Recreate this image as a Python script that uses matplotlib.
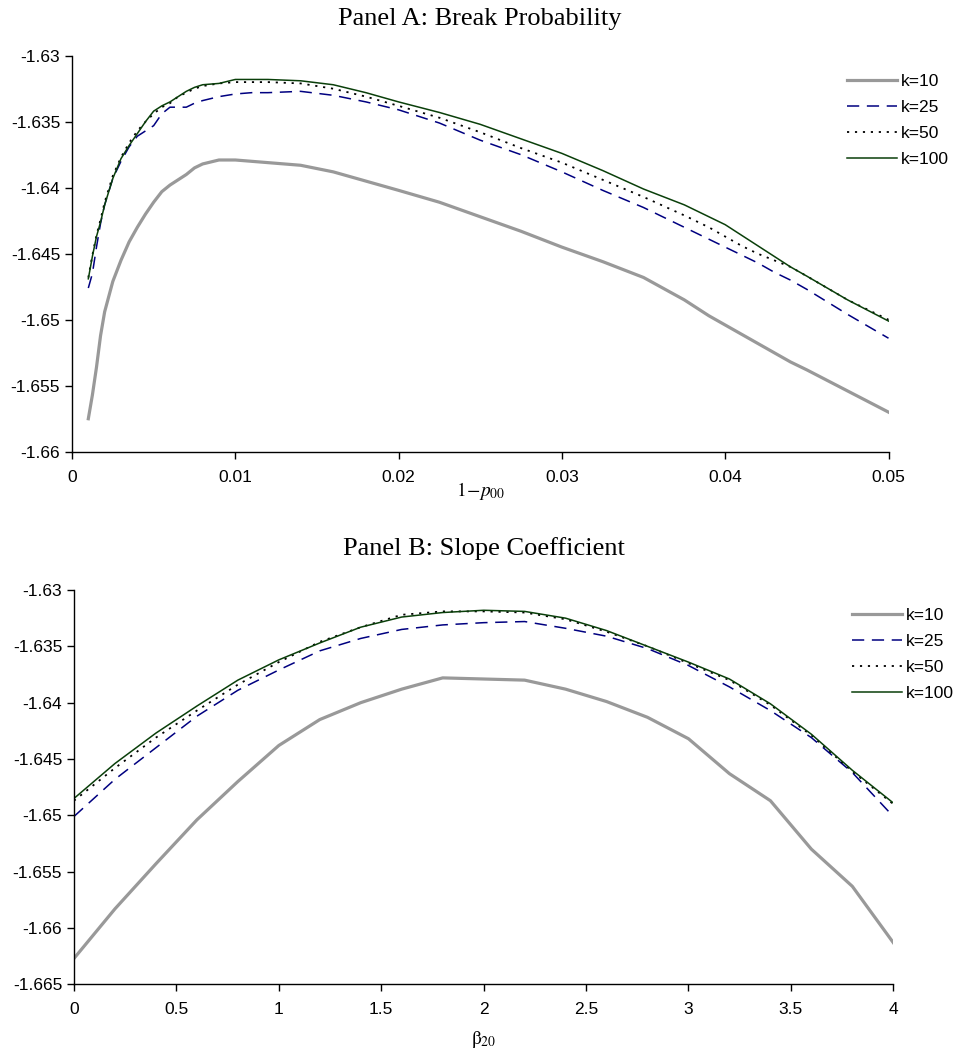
import matplotlib
matplotlib.use("Agg")
import matplotlib.pyplot as plt
from matplotlib.ticker import FuncFormatter, MultipleLocator

plt.rcParams['font.family'] = ['Liberation Sans', 'DejaVu Sans']
plt.rcParams['mathtext.fontset'] = 'stix'
plt.rcParams['axes.unicode_minus'] = False

labels = ["k=10", "k=25", "k=50", "k=100"]

# Panel A: break probability 1-p00
prob_x = [0.001, 0.00125, 0.0015, 0.00175, 0.002, 0.0025, 0.003, 0.0035, 0.004, 0.0045,
          0.005, 0.0055, 0.006, 0.0065, 0.007, 0.0075, 0.008, 0.009, 0.010, 0.011,
          0.012, 0.014, 0.016, 0.018, 0.020, 0.0225, 0.025, 0.0275, 0.030, 0.0325,
          0.035, 0.0375, 0.039, 0.040, 0.041, 0.042, 0.043, 0.044, 0.045, 0.0475, 0.050]
prob_k10 = [-1.6575, -1.6557, -1.6536, -1.6512, -1.6494, -1.6471, -1.6455, -1.6441, -1.6430, -1.6420,
            -1.6411, -1.6403, -1.6398, -1.6394, -1.6390, -1.6385, -1.6382, -1.6379, -1.6379, -1.6380,
            -1.6381, -1.6383, -1.6388, -1.6395, -1.6402, -1.6411, -1.6422, -1.6433, -1.6445, -1.6456,
            -1.6468, -1.6485, -1.6497, -1.6504, -1.6511, -1.6518, -1.6525, -1.6532, -1.6538, -1.6554, -1.6570]
prob_k25 = [-1.6476, -1.6465, -1.6445, -1.6427, -1.6413, -1.6393, -1.6380, -1.6369, -1.6361, -1.6357,
            -1.6353, -1.6344, -1.6339, -1.6339, -1.6339, -1.6336, -1.6334, -1.6331, -1.6329, -1.6328,
            -1.6328, -1.6327, -1.6330, -1.6335, -1.6341, -1.6351, -1.6364, -1.6375, -1.6388, -1.6402,
            -1.6415, -1.6430, -1.6439, -1.6445, -1.6451, -1.6457, -1.6464, -1.6470, -1.6477, -1.6496, -1.6514]
prob_k50 = [-1.6468, -1.6451, -1.6436, -1.6424, -1.6411, -1.6391, -1.6377, -1.6366, -1.6357, -1.6350,
            -1.6344, -1.6339, -1.6336, -1.6331, -1.6328, -1.6325, -1.6323, -1.6321, -1.6320, -1.6320,
            -1.6320, -1.6321, -1.6325, -1.6331, -1.6338, -1.6347, -1.6358, -1.6370, -1.6381, -1.6394,
            -1.6407, -1.6421, -1.6430, -1.6437, -1.6444, -1.6450, -1.6455, -1.6460, -1.6467, -1.6485, -1.6500]
prob_k100 = [-1.6469, -1.6452, -1.6437, -1.6426, -1.6413, -1.6393, -1.6378, -1.6368, -1.6359, -1.6350,
             -1.6342, -1.6338, -1.6335, -1.6331, -1.6327, -1.6324, -1.6322, -1.6321, -1.6318, -1.6318,
             -1.6318, -1.6319, -1.6322, -1.6328, -1.6335, -1.6343, -1.6352, -1.6363, -1.6374, -1.6387,
             -1.6401, -1.6413, -1.6422, -1.6428, -1.6436, -1.6444, -1.6452, -1.6460, -1.6467, -1.6485, -1.6501]

# Panel B: slope coefficient beta_20
slope_x = [0.0, 0.2, 0.4, 0.6, 0.8, 1.0, 1.2, 1.4, 1.6, 1.8, 2.0,
           2.2, 2.4, 2.6, 2.8, 3.0, 3.2, 3.4, 3.6, 3.8, 4.0]
slope_k10 = [-1.6627, -1.6583, -1.6543, -1.6504, -1.6470, -1.6438, -1.6415, -1.6400, -1.6388, -1.6378, -1.6379,
             -1.6380, -1.6388, -1.6399, -1.6413, -1.6432, -1.6463, -1.6487, -1.6530, -1.6563, -1.6613]
slope_k25 = [-1.6501, -1.6468, -1.6440, -1.6412, -1.6389, -1.6371, -1.6354, -1.6343, -1.6335, -1.6331, -1.6329,
             -1.6328, -1.6334, -1.6341, -1.6352, -1.6367, -1.6386, -1.6407, -1.6431, -1.6462, -1.6501]
slope_k50 = [-1.6487, -1.6458, -1.6431, -1.6407, -1.6384, -1.6364, -1.6346, -1.6333, -1.6322, -1.6319, -1.6319,
             -1.6320, -1.6326, -1.6337, -1.6350, -1.6365, -1.6380, -1.6402, -1.6429, -1.6461, -1.6490]
slope_k100 = [-1.6485, -1.6454, -1.6427, -1.6403, -1.6380, -1.6362, -1.6347, -1.6333, -1.6324, -1.6320, -1.6318,
              -1.6319, -1.6325, -1.6336, -1.6350, -1.6364, -1.6379, -1.6401, -1.6428, -1.6460, -1.6489]

styles = [
    dict(color="#999999", lw=2.3, ls="-"),
    dict(color="#000080", lw=1.1, ls=(0, (8, 5))),
    dict(color="#000000", lw=1.3, ls=(0, (1.2, 3.2))),
    dict(color="#0a3f0a", lw=1.1, ls="-"),
]

tick_fmt = FuncFormatter(lambda v, p: f"{round(v, 4):g}")


def draw_panel(ax, x, series, title, xlabel, ylim, xmax, xstep, title_pad, label_pad, legend_xy):
    for y, lab, st in zip(series, labels, styles):
        ax.plot(x, y, label=lab, **st)
    ax.set_xlim(0, xmax)
    ax.set_ylim(*ylim)
    ax.xaxis.set_major_locator(MultipleLocator(xstep))
    ax.yaxis.set_major_locator(MultipleLocator(0.005))
    ax.xaxis.set_major_formatter(tick_fmt)
    ax.yaxis.set_major_formatter(tick_fmt)
    for s in ["top", "right"]:
        ax.spines[s].set_visible(False)
    for s in ["left", "bottom"]:
        ax.spines[s].set_linewidth(1.0)
    ax.tick_params(direction="out", length=5, width=1, labelsize=12.5)
    ax.tick_params(axis="y", pad=3.5)
    ax.tick_params(axis="x", pad=8)
    ax.set_title(title, family="Liberation Serif", fontsize=19, pad=title_pad)
    ax.set_xlabel(xlabel, family="Liberation Serif", fontsize=14, labelpad=label_pad)
    ax.legend(loc="upper left", bbox_to_anchor=legend_xy, bbox_transform=fig.transFigure,
              frameon=False, fontsize=12.5, handlelength=2.9, handletextpad=0.2,
              labelspacing=0.62, borderaxespad=0, borderpad=0)


fig = plt.figure(figsize=(9.56, 10.53), dpi=100)
ax_a = fig.add_axes([0.0753, 0.571, 0.8541, 0.3761])
ax_b = fig.add_axes([0.0774, 0.0652, 0.8570, 0.3745])

draw_panel(ax_a, prob_x, [prob_k10, prob_k25, prob_k50, prob_k100],
           "Panel A: Break Probability", r"$1\!-\!p_{00}$", (-1.66, -1.63), 0.05, 0.01,
           22, -3.5, (0.886, 0.9300))
draw_panel(ax_b, slope_x, [slope_k10, slope_k25, slope_k50, slope_k100],
           "Panel B: Slope Coefficient", r"$\mathrm{\beta}_{20}$", (-1.665, -1.63), 4, 0.5,
           25, 8, (0.891, 0.4227))

fig.savefig("out.png", dpi=100)
